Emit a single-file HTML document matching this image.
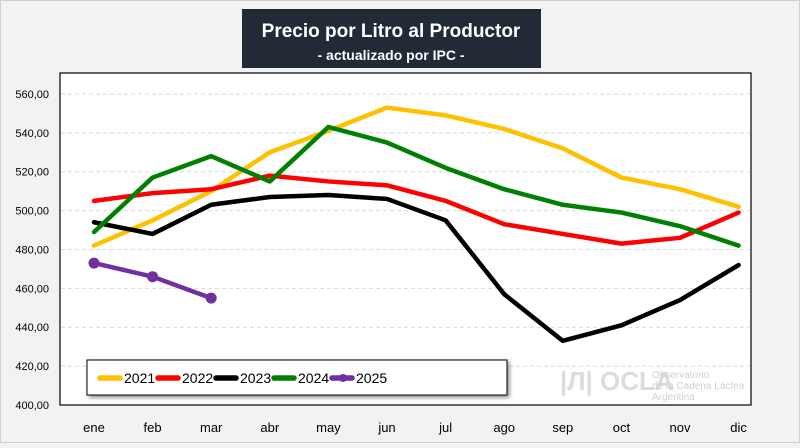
<!DOCTYPE html>
<html><head><meta charset="utf-8"><style>
body{margin:0;width:800px;height:443px;background:#f2f2f2;font-family:"Liberation Sans",sans-serif;overflow:hidden}
</style></head><body>
<svg width="800" height="443">
<rect x="0.5" y="0.5" width="799" height="442" fill="#f2f2f2" stroke="#d0d0d0"/>
<g>
<rect x="242" y="9" width="299" height="59" fill="#222a35"/>
<text x="391" y="37" text-anchor="middle" fill="#fff" font-size="19" font-weight="bold">Precio por Litro al Productor</text>
<text x="391" y="60" text-anchor="middle" fill="#fff" font-size="14" font-weight="bold">- actualizado por IPC -</text>
</g>
<rect x="60" y="73" width="691" height="332" fill="#fff" stroke="#000" stroke-width="1.2"/>
<g id="grid"></g><g id="ylab"></g><g id="xlab"></g>
<g fill="#d8d8d8">
<text x="560" y="390" font-size="26" font-weight="bold" fill="#dcdcdc">|Л| OCLA</text>
<text x="652" y="378" font-size="10" fill="#d0d0d0">Observatorio</text>
<text x="652" y="389" font-size="10" fill="#d0d0d0">de la Cadena Láctea</text>
<text x="652" y="400" font-size="10" fill="#d0d0d0">Argentina</text>
</g>
<g id="series"></g>
<g>
<rect x="87" y="360" width="420" height="35" fill="#fff" stroke="#000" stroke-width="1" style="filter:drop-shadow(2px 2px 2px #888)"/>
<g id="legend"></g>
</g>
</svg>
<script>
const months=["ene","feb","mar","abr","may","jun","jul","ago","sep","oct","nov","dic"];
const yTicks=[400,420,440,460,480,500,520,540,560];
const s2021=[482,495,510,530,541,553,549,542,532,517,511,502];
const s2022=[505,509,511,518,515,513,505,493,488,483,486,499];
const s2023=[494,488,503,507,508,506,495,457,433,441,454,472];
const s2024=[489,517,528,515,543,535,522,511,503,499,492,482];
const s2025=[473,466,455];
const seriesNames=["2021","2022","2023","2024","2025"];
const NS="http://www.w3.org/2000/svg";
const xs=i=>94+i*58.6, ys=v=>405-(v-400)*1.944;
function mk(t,a,p){const e=document.createElementNS(NS,t);for(const k in a)e.setAttribute(k,a[k]);p.appendChild(e);return e;}
const grid=document.getElementById('grid'),yl=document.getElementById('ylab'),xl=document.getElementById('xlab');
yTicks.forEach(v=>{
 if(v>400){const l=mk('line',{x1:61,x2:750,y1:ys(v),y2:ys(v),stroke:'#d9d9d9','stroke-dasharray':'4,3'},grid);
 
 }
 const t=mk('text',{x:49,y:ys(v)+4,'text-anchor':'end','font-size':11,fill:'#000'},yl);t.textContent=v.toFixed(2).replace('.',',');
 
 
});
months.forEach((m,i)=>{const t=mk('text',{x:xs(i),y:432,'text-anchor':'middle','font-size':13,fill:'#000'},xl);t.textContent=m;
 
 });
const data=[s2021,s2022,s2023,s2024,s2025],cols=["#ffc000","#ff0000","#000000","#008000","#7030a0"];
const sg=document.getElementById('series'),lg=document.getElementById('legend');
data.forEach((d,k)=>{
 const p=mk('polyline',{points:d.map((v,i)=>xs(i)+','+ys(v)).join(' '),fill:'none',stroke:cols[k],'stroke-width':4.5,'stroke-linejoin':'round','stroke-linecap':'round'},sg);
 
 
 if(k===4)d.forEach((v,i)=>{const c=mk('circle',{cx:xs(i),cy:ys(v),r:5.5,fill:cols[k]},sg);
  
  });
 const lx=100+k*58;
 const ll=mk('line',{x1:lx,x2:lx+20,y1:378,y2:378,stroke:cols[k],'stroke-width':5.5,'stroke-linecap':'round'},lg);
 
 
 if(k===4){const c=mk('circle',{cx:lx+11,cy:378,r:4,fill:cols[k]},lg);}
 const t=mk('text',{x:lx+24,y:383,'font-size':14,fill:'#000'},lg);t.textContent=seriesNames[k];
 
 
});
</script>
</body></html>
